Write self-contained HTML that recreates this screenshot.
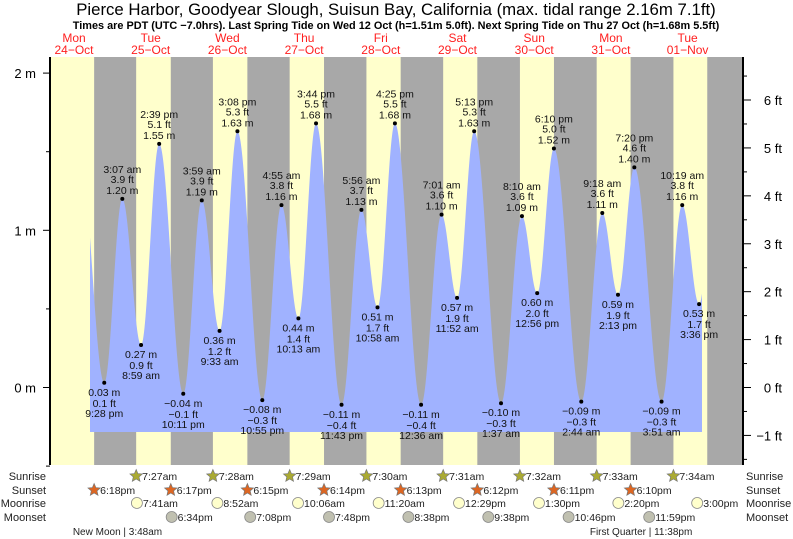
<!DOCTYPE html>
<html><head><meta charset="utf-8"><style>
body{margin:0;background:#fff;}
svg{display:block;font-family:"Liberation Sans",sans-serif;}
</style></head><body>
<svg id="c" width="793" height="539" xmlns="http://www.w3.org/2000/svg">
<g id="bands"></g><g id="tide"></g><g id="axes"></g><g id="labels"></g><g id="bottom"></g>
<text x="396" y="15" text-anchor="middle" font-size="16.8">Pierce Harbor, Goodyear Slough, Suisun Bay, California (max. tidal range 2.16m 7.1ft)</text>
<text x="396" y="29" text-anchor="middle" font-size="10.9" font-weight="bold">Times are PDT (UTC −7.0hrs). Last Spring Tide on Wed 12 Oct (h=1.51m 5.0ft). Next Spring Tide on Thu 27 Oct (h=1.68m 5.5ft)</text>
</svg>
<script>
// data: hours measured from Oct-24 00:00 PDT
const dayNames=["Mon","Tue","Wed","Thu","Fri","Sat","Sun","Mon","Tue"];
const dayDates=["24\u2212Oct","25\u2212Oct","26\u2212Oct","27\u2212Oct","28\u2212Oct","29\u2212Oct","30\u2212Oct","31\u2212Oct","01\u2212Nov"];
const tideTimes=["21:28","27:07","32:59","38:39","46:11","51:59","57:33","63:08","70:55","76:55","82:13","87:44","95:43","101:56","106:58","112:25","120:36","127:01","131:52","137:13","145:37","152:10","156:56","162:10","170:44","177:18","182:13","187:20","195:51","202:19","207:36"];
const tideHeights=[0.03,1.20,0.27,1.55,-0.04,1.19,0.36,1.63,-0.08,1.16,0.44,1.68,-0.11,1.13,0.51,1.68,-0.11,1.10,0.57,1.63,-0.10,1.09,0.60,1.52,-0.09,1.11,0.59,1.40,-0.09,1.16,0.53];
const tideLabels=["9:28 pm","3:07 am","8:59 am","2:39 pm","10:11 pm","3:59 am","9:33 am","3:08 pm","10:55 pm","4:55 am","10:13 am","3:44 pm","11:43 pm","5:56 am","10:58 am","4:25 pm","12:36 am","7:01 am","11:52 am","5:13 pm","1:37 am","8:10 am","12:56 pm","6:10 pm","2:44 am","9:18 am","2:13 pm","7:20 pm","3:51 am","10:19 am","3:36 pm"];
const tideBefore={t:"14:00",h:1.45};
const tideAfter={t:"212:30",h:1.35};
const sunriseTimes=["31:27","55:28","79:29","103:30","127:31","151:32","175:33","199:34"];
const sunriseLabels=["7:27am","7:28am","7:29am","7:30am","7:31am","7:32am","7:33am","7:34am"];
const sunsetTimes=["18:18","42:17","66:15","90:14","114:13","138:12","162:11","186:10","210:09"];
const sunsetLabels=["6:18pm","6:17pm","6:15pm","6:14pm","6:13pm","6:12pm","6:11pm","6:10pm"];
const moonriseTimes=["31:41","56:52","82:06","107:20","132:29","157:30","182:20","207:00"];
const moonriseLabels=["7:41am","8:52am","10:06am","11:20am","12:29pm","1:30pm","2:20pm","3:00pm"];
const moonsetTimes=["42:34","67:08","91:48","116:38","141:38","166:46","191:59"];
const moonsetLabels=["6:34pm","7:08pm","7:48pm","8:38pm","9:38pm","10:46pm","11:59pm"];
const phaseTimes=["27:48","191:38"];
const phaseLabels=["New Moon | 3:48am","First Quarter | 11:38pm"];
const mTicks=[0,1,2];
const ftTicks=[-1,0,1,2,3,4,5,6];

const NS="http://www.w3.org/2000/svg";
const L=50,R=743,T=57,B=465,FILLB=432,FILLX0=90,FILLX1=702;
function hrs(s){const p=s.split(":");return +p[0]+ +p[1]/60;}
function X(h){return 74+(h-12)/24*76.7;}
function Y(m){return 387.5-m*157.2;}
function YF(f){return Y(f*0.3048);}
function el(tag,attrs,parent,txt){const e=document.createElementNS(NS,tag);for(const k in attrs)e.setAttribute(k,attrs[k]);if(txt!==undefined)e.textContent=txt;parent.appendChild(e);return e;}
const g=id=>document.getElementById(id);

// day labels
dayNames.forEach((d,i)=>{
  const x=X(12+24*i);
  const t=el("text",{x:x,y:42,"text-anchor":"middle","font-size":12,fill:"#ff2020"},g("labels"),d);
  
  
  const t2=el("text",{x:x,y:54,"text-anchor":"middle","font-size":12,fill:"#ff2020"},g("labels"),dayDates[i]);
  
  
});

// day/night bands
const bg=el("rect",{x:L,y:T,width:R-L,height:B-T,fill:"#ffffcc"},g("bands"));


sunsetTimes.forEach((s,i)=>{
  const x0=Math.max(L,X(hrs(s)));
  const x1=i<sunriseTimes.length?X(hrs(sunriseTimes[i])):R;
  const r=el("rect",{x:x0,y:T,width:Math.min(R,x1)-x0,height:B-T,fill:"#a8a8a8"},g("bands"));
  
  
});

// tide curve
const pts=[{h:hrs(tideBefore.t),v:tideBefore.h}];
tideTimes.forEach((t,i)=>pts.push({h:hrs(t),v:tideHeights[i]}));
pts.push({h:hrs(tideAfter.t),v:tideAfter.h});
function val(h){for(let i=0;i<pts.length-1;i++){const a=pts[i],b=pts[i+1];if(h>=a.h&&h<=b.h){const f=(h-a.h)/(b.h-a.h);return b.v+(a.v-b.v)*(1+Math.cos(Math.PI*f))/2;}}return pts[pts.length-1].v;}
let d="M"+FILLX0+","+FILLB;
for(let x=FILLX0;x<=FILLX1;x+=0.5){const h=12+(x-74)/76.7*24;d+=" L"+x+","+Y(val(h)).toFixed(2);}
d+=" L"+FILLX1+","+FILLB+" Z";
const area=el("path",{d:d,fill:"#a0b2ff"},g("tide"));



// extreme labels
tideTimes.forEach((t,i)=>{
  const x=X(hrs(t)),v=tideHeights[i],y=Y(v);
  const high=i%2===1;
  const c=el("circle",{cx:x,cy:y,r:2,fill:"#000"},g("labels"));
  
  
  const ft=(v/0.3048).toFixed(1).replace("-","\u2212");
  const m=v.toFixed(2).replace("-","\u2212")+" m";
  const lines=high?[tideLabels[i],ft+" ft",m]:[m,ft+" ft",tideLabels[i]];
  const ys=high?[y-26,y-16,y-5]:[y+13,y+24,y+34];
  lines.forEach((s,k)=>{
    const tx=el("text",{x:x,y:ys[k],"text-anchor":"middle","font-size":10.5,fill:"#111"},g("labels"),s);
    
    
  });
});

// axes
const la=el("line",{x1:L,y1:T,x2:L,y2:B,stroke:"#000","stroke-width":2},g("axes"));


const ra=el("line",{x1:R,y1:T,x2:R,y2:B,stroke:"#000","stroke-width":2},g("axes"));


for(let m=-0.5;m<=2.01;m+=0.5){
  const y=Y(m),major=Math.abs(m-Math.round(m))<0.01;
  const tk=el("line",{x1:major?43:46,y1:y,x2:L,y2:y,stroke:"#000"},g("axes"));
  
  
}
mTicks.forEach(m=>{
  const t=el("text",{x:36,y:Y(m)+5,"text-anchor":"end","font-size":13},g("axes"),m+" m");
  
  
});
for(let f=-1.5;f<=6.6;f+=0.5){
  const y=YF(f);if(y<T||y>B)continue;
  const major=Math.abs(f-Math.round(f))<0.01;
  const tk=el("line",{x1:R,y1:y,x2:major?R+8:R+4,y2:y,stroke:"#000"},g("axes"));
  
  
}
ftTicks.forEach(f=>{
  const t=el("text",{x:782,y:YF(f)+5,"text-anchor":"end","font-size":13},g("axes"),String(f).replace("-","\u2212")+" ft");
  
  
});

// bottom rows
const rowY={rise:480,set:494,mrise:507,mset:521,phase:535};
[["Sunrise",rowY.rise],["Sunset",rowY.set],["Moonrise",rowY.mrise],["Moonset",rowY.mset]].forEach(([s,y])=>{
  const a=el("text",{x:46,y:y,"text-anchor":"end","font-size":11,fill:"#222"},g("bottom"),s);
  
  
  const b=el("text",{x:746,y:y,"font-size":11,fill:"#222"},g("bottom"),s);
  
  
});
function star(cx,cy,fill){let p="";for(let k=0;k<10;k++){const r=k%2?3:6.5,a=-Math.PI/2+k*Math.PI/5;p+=(cx+r*Math.cos(a)).toFixed(1)+","+(cy+r*Math.sin(a)).toFixed(1)+" ";}return {points:p,fill:fill,stroke:"#777","stroke-width":0.7};}
function row(times,labels,y,kind){
  labels.forEach((s,i)=>{
    const x=X(hrs(times[i]));
    let ic;
    if(kind==="rise")ic=el("polygon",star(x,y-4,"#aaaa33"),g("bottom"));
    else if(kind==="set")ic=el("polygon",star(x,y-4,"#dd6622"),g("bottom"));
    else ic=el("circle",{cx:x,cy:y-4,r:5.5,fill:kind==="mrise"?"#ffffcc":"#c0c0b0",stroke:"#888","stroke-width":0.8},g("bottom"));
    
    
    const t=el("text",{x:x+6,y:y,"font-size":10.5,fill:"#222"},g("bottom"),s);
    
    
  });
}
row(sunriseTimes,sunriseLabels,rowY.rise,"rise");
row(sunsetTimes,sunsetLabels,rowY.set,"set");
row(moonriseTimes,moonriseLabels,rowY.mrise,"mrise");
row(moonsetTimes,moonsetLabels,rowY.mset,"mset");
phaseLabels.forEach((s,i)=>{
  const t=el("text",{x:X(hrs(phaseTimes[i]))-7,y:rowY.phase,"text-anchor":"middle","font-size":10,fill:"#222"},g("bottom"),s);
  
  
});
</script>
</body></html>
